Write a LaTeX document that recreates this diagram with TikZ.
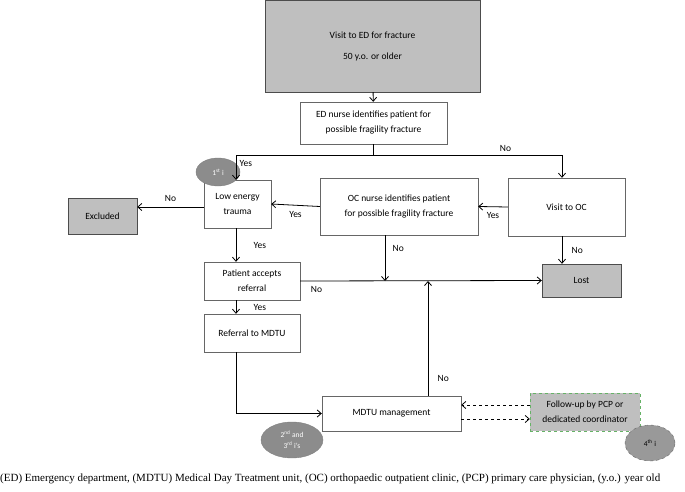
\documentclass[tikz,border=0pt]{standalone}
\usepackage{fontspec}
\setmainfont{Carlito}
\newfontfamily\capfont{Liberation Serif}
\usetikzlibrary{arrows.meta,positioning,shapes.geometric}
\tikzset{
	box/.style={draw=black!60,fill=white,align=center,inner sep=1pt,font=\fontsize{9.5}{15}\selectfont},
	grey/.style={box,fill=black!25,draw=black!70},
	flow/.style={thick,-{Straight Barb[length=4pt,width=7pt]}},
	tag/.style={ellipse,fill=black!45,draw=black!50,text=white,align=center,font=\fontsize{7.5}{11}\selectfont,inner sep=0pt},
	lbl/.style={font=\fontsize{9.5}{11}\selectfont}
}
\begin{document}
\begin{tikzpicture}[x=1pt,y=-1pt]
	\useasboundingbox (0,0) rectangle (685,492);
	% boxes
	\node[grey,minimum width=215,minimum height=92] (visited) at (372.5,46) {Visit to ED for fracture\\[6pt]50 y.o. or older};
	\node[box,minimum width=147,minimum height=42] (ednurse) at (373.5,123) {ED nurse identifies patient for\\possible fragility fracture};
	\node[grey,minimum width=69,minimum height=36] (excl) at (102.5,216) {Excluded};
	\node[box,minimum width=67,minimum height=48] (lowen) at (237.5,204) {Low energy\\trauma};
	\node[box,minimum width=158,minimum height=57] (ocnurse) at (399,206.5) {OC nurse identifies patient\\for possible fragility fracture};
	\node[box,minimum width=117,minimum height=58] (visitoc) at (566.5,207) {Visit to OC};
	\node[box,minimum width=96,minimum height=38] (accept) at (252,281) {Patient accepts\\referral};
	\node[grey,minimum width=79,minimum height=33] (lost) at (581.5,280.5) {Lost};
	\node[box,minimum width=96,minimum height=38] (referral) at (252,333) {Referral to MDTU};
	\node[box,minimum width=139,minimum height=35] (mdtu) at (391.5,413.5) {MDTU management};
	\node[grey,draw=green!50!black!60,dashed,minimum width=110,minimum height=38] (follow) at (585,412) {Follow-up by PCP or\\dedicated coordinator};
	% tags
	\node[tag,minimum width=44,minimum height=28] (first) at (218,172) {1\textsuperscript{st} i};
	\node[tag,minimum width=62,minimum height=36] (second) at (292,440) {2\textsuperscript{nd} and\\3\textsuperscript{rd} i's};
	\node[tag,dashed,draw=black!60,fill=black!40,text=black,minimum width=50,minimum height=36] (fourth) at (650,443) {4\textsuperscript{th} i};
	% connectors
	\coordinate (split) at (373.5,155);
	\draw[flow] (visited) -- (ednurse);
	\draw[thick] (ednurse) -- (split);
	\draw[flow] (split) -| (lowen.north -| 236,0) node[lbl,pos=0.8,above right] {Yes};
	\draw[flow] (split) -| (visitoc.north -| 562,0) node[lbl,pos=0.35,above] {No};
	\draw[flow] (visitoc.west) -- (ocnurse.east) node[lbl,midway,below=2pt] {Yes};
	\draw[flow] (ocnurse.west) -- (lowen.east) node[lbl,midway,below=2pt] {Yes};
	\draw[flow] (lowen.west |- 0,207) -- (excl.east |- 0,207) node[lbl,midway,above=2pt] {No};
	\draw[flow] (lowen.south -| 236,0) -- (accept.north -| 236,0) node[lbl,midway,right=14pt] {Yes};
	\draw[flow] (ocnurse.south -| 385,0) -- (385,281) node[lbl,pos=0.3,right=4pt] {No};
	\draw[flow] (accept.east) -- (lost.west) node[lbl,pos=0.02,below right=3pt] {No};
	\draw[flow] (visitoc.south -| 562,0) -- (lost.north -| 562,0) node[lbl,midway,right=6pt] {No};
	\draw[flow] (accept.south -| 236,0) -- (referral.north -| 236,0) node[lbl,midway,right=14pt] {Yes};
	\draw[flow] (referral.south -| 236,0) |- (mdtu.west);
	\draw[flow] (mdtu.north -| 428,0) -- (428,281) node[lbl,pos=0.15,right=6pt] {No};
	\draw[flow,dashed] (follow.west |- 0,405) -- (mdtu.east |- 0,405);
	\draw[flow,dashed] (mdtu.east |- 0,419) -- (follow.west |- 0,419);
	% caption
	\node[font=\capfont\fontsize{11}{13}\selectfont,anchor=west,inner sep=0pt] (caption) at (0,479) {(ED) Emergency department, (MDTU) Medical Day Treatment unit, (OC) orthopaedic outpatient clinic, (PCP) primary care physician, (y.o.) year old};
\end{tikzpicture}
\end{document}
